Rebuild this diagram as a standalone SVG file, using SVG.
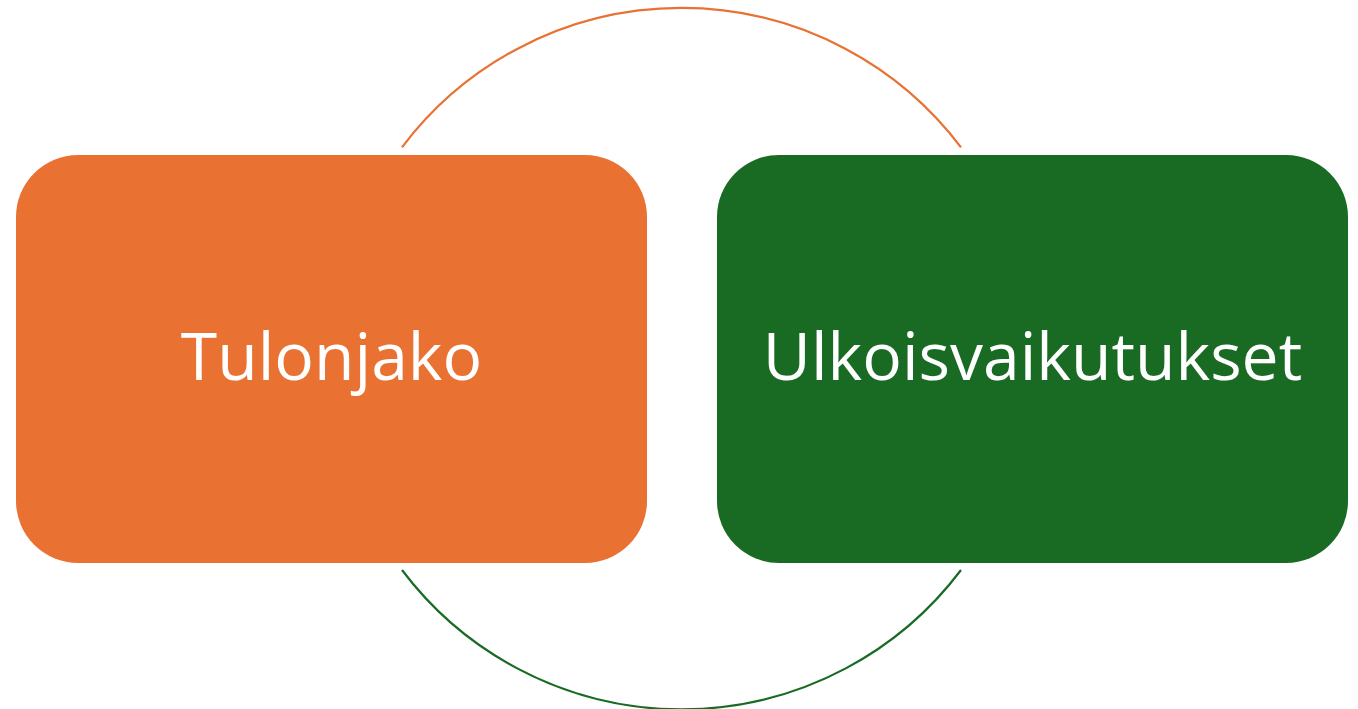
<svg xmlns="http://www.w3.org/2000/svg" width="1358" height="709" viewBox="0 0 1358 709">
<style>
.lbl{font-family:"Open Sans","Liberation Sans",sans-serif;font-size:66px;fill:#FFFFFF;text-anchor:middle}
.arc{fill:none;stroke-width:2.2}
</style>
<rect width="1358" height="709" fill="#FFFFFF"/>
<g id="connectors">
<path class="arc" stroke="#E97132" d="M402,147.3 A350,350 0 0 1 961,147.3"/>
<path class="arc" stroke="#196B24" d="M402,570 A350,350 0 0 0 961,570"/>
</g>
<g id="node-tulonjako">
<rect x="16" y="155" width="631" height="408" rx="62" ry="62" fill="#E97132"/>
<text class="lbl" x="331.5" y="380">Tulonjako</text>
</g>
<g id="node-ulkoisvaikutukset">
<rect x="717" y="155" width="631" height="408" rx="62" ry="62" fill="#196B24"/>
<text class="lbl" x="1032.5" y="380">Ulkoisvaikutukset</text>
</g>
</svg>
